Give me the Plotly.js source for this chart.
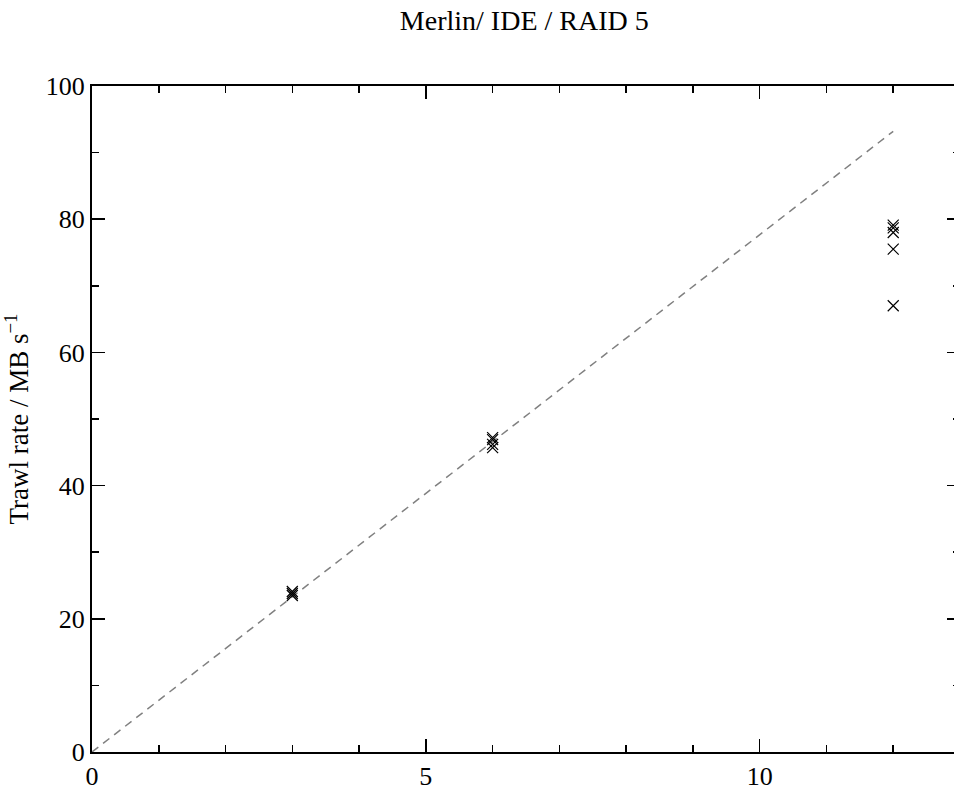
<!DOCTYPE html>
<html>
<head>
<meta charset="utf-8">
<script src="https://cdn.plot.ly/plotly-3.0.1.min.js"></script>
<style>
html,body{margin:0;padding:0;overflow:hidden;background:#fff;}
#chart{width:962px;height:790px;}
</style>
</head>
<body>
<div id="chart"></div>
<script>
// measured trawl rates
const disks = [3, 3, 3, 6, 6, 6, 6, 12, 12, 12, 12, 12];
const rates = [24.1, 23.8, 23.5, 47.2, 46.9, 46.2, 45.7, 79.1, 78.7, 78.0, 75.5, 67.0];
// ideal linear scaling line
const idealX = [0, 12];
const idealY = [0, 93.2];

const font = "Liberation Serif, DejaVu Serif, serif";

const traces = [
  {
    x: idealX, y: idealY, mode: 'lines', type: 'scatter',
    line: {color: '#808080', width: 1.5, dash: '8px,6px'},
    hoverinfo: 'skip', showlegend: false
  },
  {
    x: disks, y: rates, mode: 'markers', type: 'scatter',
    marker: {symbol: 'x-thin-open', size: 11, color: 'black', line: {color: 'black', width: 1.2}},
    showlegend: false
  }
];

const axisCommon = {
  showgrid: false, zeroline: false, showline: true, linecolor: 'black', linewidth: 2,
  mirror: 'ticks', ticks: 'inside', ticklen: 13, tickwidth: 1.5, tickcolor: 'black',
  tickfont: {family: font, size: 26, color: 'black'}
};

const layout = {
  width: 962, height: 790,
  margin: {l: 92, r: 2, t: 86, b: 38},
  paper_bgcolor: 'white', plot_bgcolor: 'white',
  font: {family: font, color: 'black'},
  title: {text: 'Merlin/ IDE / RAID 5', font: {family: font, size: 28, color: 'black'},
          x: 0.545, xanchor: 'center', y: 0.975, yanchor: 'middle'},
  xaxis: Object.assign({}, axisCommon, {
    range: [0, 13], tickmode: 'linear', tick0: 0, dtick: 5,
    minor: {dtick: 1, tick0: 0, ticks: 'inside', ticklen: 7, tickwidth: 1.5, tickcolor: 'black', showgrid: false}
  }),
  yaxis: Object.assign({}, axisCommon, {
    range: [0, 100], tickmode: 'linear', tick0: 0, dtick: 20,
    minor: {dtick: 10, tick0: 0, ticks: 'inside', ticklen: 7, tickwidth: 1.5, tickcolor: 'black', showgrid: false},
    title: {text: 'Trawl rate / MB s<sup>−1</sup>', font: {family: font, size: 27, color: 'black'}, standoff: 12}
  })
};

Plotly.newPlot('chart', traces, layout, {staticPlot: true, displayModeBar: false});
</script>
</body>
</html>
